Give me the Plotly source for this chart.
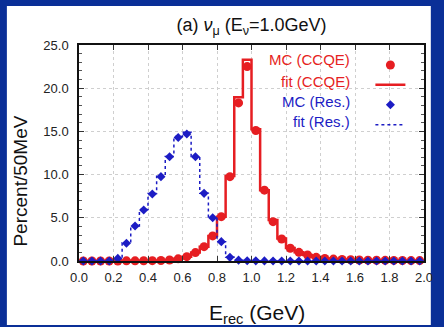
import plotly.graph_objects as go

# ---- data (50 MeV bins from 0 to 2 GeV, values in percent) ----
bin_width = 0.05
e_centers = [round(bin_width * (i + 0.5), 3) for i in range(40)]

mc_ccqe = [0, 0, 0, 0, 0,
           0.02, 0.02, 0.03, 0.04, 0.06,
           0.12, 0.25, 0.5, 0.97, 1.66, 2.9, 5.13, 9.76, 18.3, 22.5,
           15.1, 8.2, 4.55, 2.55, 1.47, 1.0, 0.69, 0.42, 0.3, 0.22,
           0.17, 0.14, 0.12, 0.1, 0.09, 0.08, 0.07, 0.06, 0.05, 0.05]
fit_ccqe = [0, 0, 0, 0, 0,
            0.02, 0.02, 0.03, 0.04, 0.06,
            0.12, 0.25, 0.5, 0.97, 1.66, 2.9, 5.13, 9.84, 18.95, 23.3,
            15.24, 8.2, 4.75, 2.6, 1.5, 1.0, 0.69, 0.42, 0.3, 0.22,
            0.17, 0.14, 0.12, 0.1, 0.09, 0.08, 0.07, 0.06, 0.05, 0.05]
mc_res = [0, 0, 0, 0, 0.3,
          2.05, 4.05, 5.9, 7.75, 9.76,
          12.07, 14.3, 14.7, 12.07, 7.83, 5.0, 2.24, 0.42, 0.1, 0.03,
          0.02, 0.01, 0, 0, 0, 0, 0, 0, 0, 0,
          0, 0, 0, 0, 0, 0, 0, 0, 0, 0]
fit_res = [0, 0, 0, 0, 0.35,
           2.1, 4.05, 5.95, 7.8, 9.8,
           12.1, 14.4, 14.9, 12.1, 7.85, 5.0, 2.24, 0.42, 0.1, 0.03,
           0.02, 0.01, 0, 0, 0, 0, 0, 0, 0, 0,
           0, 0, 0, 0, 0, 0, 0, 0, 0, 0]

x_ticks = [0.0, 0.2, 0.4, 0.6, 0.8, 1.0, 1.2, 1.4, 1.6, 1.8, 2.0]
y_ticks = [0.0, 5.0, 10.0, 15.0, 20.0, 25.0]

legend_labels = ["MC (CCQE)", "fit (CCQE)", "MC (Res.)", "fit (Res.)"]

RED = "#e61e22"
BLUE = "#1c1cc4"
FRAME = "#0a2f97"
FONT = "Liberation Sans, Arial, sans-serif"

fig = go.Figure()
fig.add_trace(go.Scatter(x=e_centers, y=fit_ccqe, mode="lines", line_shape="hvh",
                         line=dict(color=RED, width=2.5), name=" ", legendrank=2,
                         cliponaxis=False))
fig.add_trace(go.Scatter(x=e_centers, y=mc_ccqe, mode="markers",
                         marker=dict(color=RED, size=9, symbol="circle"), name=" ",
                         legendrank=1, cliponaxis=False))
fig.add_trace(go.Scatter(x=e_centers, y=fit_res, mode="lines", line_shape="hvh",
                         line=dict(color=BLUE, width=1.5, dash="dot"), name=" ",
                         legendrank=4, cliponaxis=False))
fig.add_trace(go.Scatter(x=e_centers, y=mc_res, mode="markers",
                         marker=dict(color=BLUE, size=7, symbol="diamond"), name=" ",
                         legendrank=3, cliponaxis=False))

W, H = 444, 327
L, R, T, B = 79, 433, 45, 261


def px_x(p):
    return (p - L) / (R - L)


def px_y(p):
    return (B - p) / (B - T)


axis_common = dict(showline=True, linecolor="#111", linewidth=1.5, mirror="ticks",
                   ticks="inside", ticklen=5, tickcolor="#333", tickwidth=1,
                   showgrid=True, gridcolor="#cfcfcf", griddash="dot", gridwidth=1,
                   zeroline=False, tickfont=dict(family=FONT, size=13, color="#222"))

fig.update_xaxes(range=[0, 2.0], tickvals=x_ticks, tickformat=".1f",
                 ticklabelstandoff=4, **axis_common)
fig.update_yaxes(range=[0, 25.0], tickvals=y_ticks, tickformat=".1f",
                 ticklabelstandoff=6,
                 minor=dict(dtick=1, ticks="inside", ticklen=3, tickcolor="#555",
                            showgrid=False),
                 **axis_common)

annotations = []
row_y = [60, 81, 101, 121]
row_col = [RED, RED, BLUE, BLUE]
for lab, yy, col in zip(legend_labels, row_y, row_col):
    annotations.append(dict(text=lab, x=px_x(359), y=px_y(yy), xref="paper", yref="paper",
                            xanchor="right", yanchor="middle", showarrow=False,
                            font=dict(family=FONT, size=15, color=col)))
annotations.append(dict(text="Percent/50MeV", x=px_x(18), y=px_y(181), xref="paper",
                        yref="paper", xanchor="center", yanchor="middle", textangle=-90,
                        showarrow=False, font=dict(family=FONT, size=19, color="#111")))
annotations.append(dict(text="E<sub>rec</sub> (GeV)", x=px_x(262), y=px_y(299),
                        xref="paper", yref="paper", xanchor="center", yanchor="top",
                        showarrow=False, font=dict(family=FONT, size=21, color="#111")))

fig.update_layout(
    width=W, height=H,
    margin=dict(l=L, r=W - R, t=T, b=H - B),
    paper_bgcolor=FRAME, plot_bgcolor="white",
    title=dict(text="(a) <i>ν</i><sub>μ</sub> (E<sub>ν</sub>=1.0GeV)", x=0.5, xref="paper",
               xanchor="center", y=1 - 25 / H, yanchor="middle",
               font=dict(family=FONT, size=18, color="#111")),
    showlegend=True,
    legend=dict(x=px_x(378), y=px_y(50), xanchor="left", yanchor="top",
                bgcolor="rgba(0,0,0,0)", borderwidth=0, tracegroupgap=0,
                font=dict(family=FONT, size=13), itemwidth=30),
    shapes=[dict(type="rect", xref="paper", yref="paper", layer="below",
                 x0=px_x(5), x1=px_x(440), y0=px_y(325), y1=px_y(6),
                 fillcolor="white", line=dict(width=0))],
    annotations=annotations,
)

fig.write_html("out.html", config={"displayModeBar": False},
               post_script="document.body.style.margin='0';document.body.style.overflow='hidden';")
